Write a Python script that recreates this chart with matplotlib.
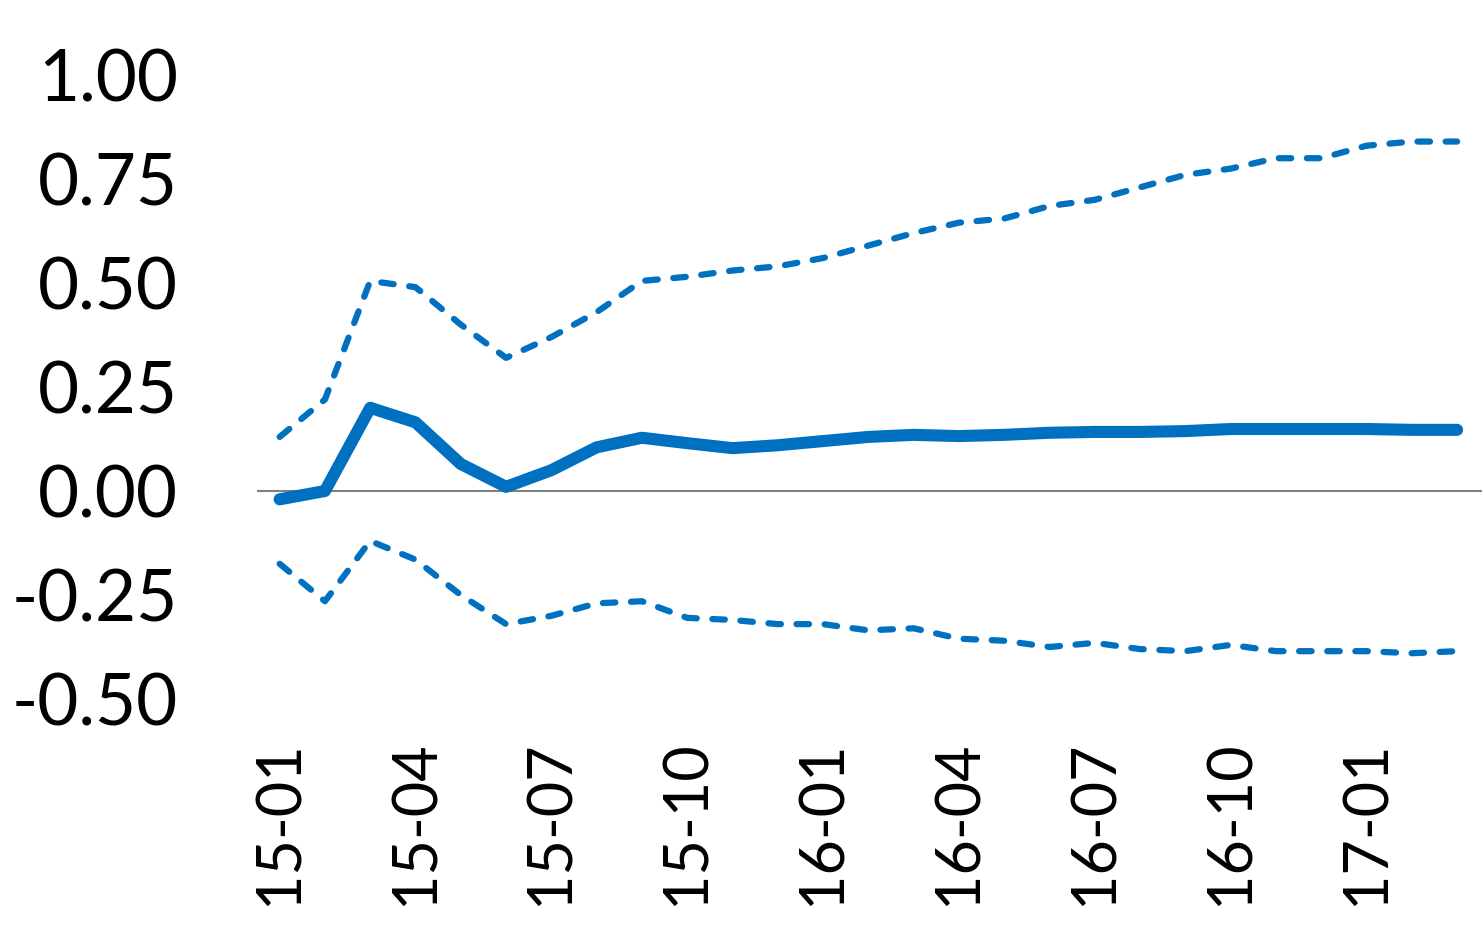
import matplotlib
matplotlib.use("Agg")
import matplotlib.pyplot as plt

months = ["15-01","15-02","15-03","15-04","15-05","15-06","15-07","15-08","15-09",
          "15-10","15-11","15-12","16-01","16-02","16-03","16-04","16-05","16-06",
          "16-07","16-08","16-09","16-10","16-11","16-12","17-01","17-02","17-03"]

central = [-0.02, 0.00, 0.20, 0.165, 0.065, 0.01, 0.05, 0.105, 0.128,
           0.115, 0.103, 0.11, 0.12, 0.13, 0.135, 0.132, 0.135, 0.14,
           0.142, 0.142, 0.144, 0.149, 0.149, 0.149, 0.149, 0.147, 0.147]

upper = [0.13, 0.22, 0.505, 0.49, 0.40, 0.32, 0.37, 0.43, 0.505,
         0.515, 0.53, 0.54, 0.56, 0.59, 0.62, 0.645, 0.655, 0.685,
         0.70, 0.73, 0.76, 0.775, 0.80, 0.80, 0.83, 0.84, 0.84]

lower = [-0.175, -0.265, -0.12, -0.165, -0.25, -0.32, -0.30, -0.27, -0.265,
         -0.305, -0.31, -0.32, -0.32, -0.335, -0.33, -0.355, -0.36, -0.375,
         -0.365, -0.38, -0.385, -0.37, -0.385, -0.385, -0.385, -0.39, -0.385]

yticks = [-0.5, -0.25, 0.0, 0.25, 0.5, 0.75, 1.0]

plt.rcParams['font.family'] = ['Lato', 'DejaVu Sans']

W, H = 1482, 948
fig = plt.figure(figsize=(W/100, H/100), dpi=100)
ax = fig.add_axes([257/W, 1-699/H, (1482-257)/W, (699-75)/H])

color = "#0070C0"
x = list(range(len(months)))
ax.axhline(0, color="#808080", lw=1.5, zorder=1)
ax.plot(x, central, color=color, lw=8.7, solid_capstyle='round', solid_joinstyle='round', zorder=3)
for s in (upper, lower):
    ax.plot(x, s, color=color, lw=4.5, dashes=(2, 2.5), dash_capstyle='round', zorder=2)

ax.set_xlim(-0.5, 26.55)
ax.set_ylim(-0.5, 1.0)
ax.set_yticks(yticks)
ax.set_yticklabels([f"{v:.2f}" for v in yticks], fontsize=51)
ax.set_xticks(x[::3])
ax.set_xticklabels(months[::3], rotation=90, fontsize=44)
ax.tick_params(length=0)
ax.tick_params(axis='y', pad=57)
ax.tick_params(axis='x', pad=30)
for sp in ax.spines.values():
    sp.set_visible(False)

fig.savefig("out.png", dpi=100)
